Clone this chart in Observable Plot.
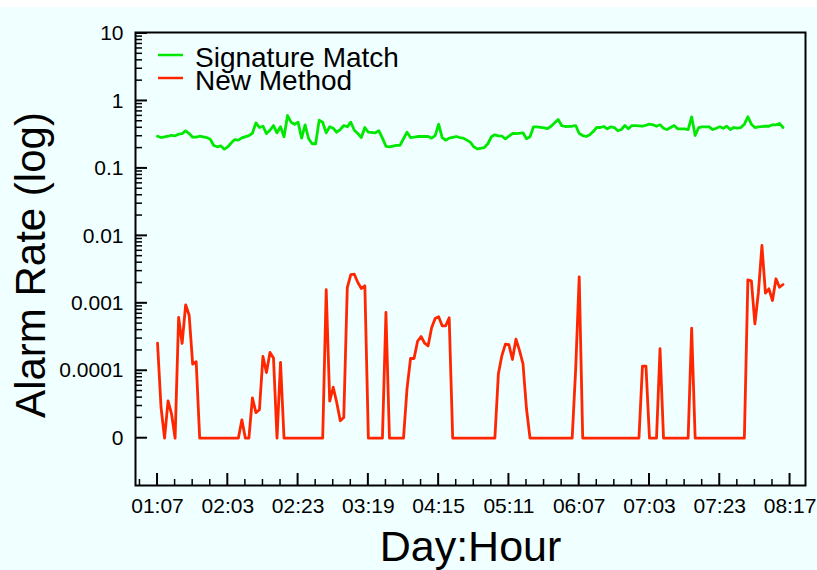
<!DOCTYPE html>
<html>
<head>
<meta charset="utf-8">
<script src="https://cdn.jsdelivr.net/npm/d3@7"></script>
<script src="https://cdn.jsdelivr.net/npm/@observablehq/plot@0.6"></script>
<style>
  html, body { margin: 0; padding: 0; background: #ffffff; }
  #chart { padding-top: 7px; }
  #chart svg { display: block; }
</style>
</head>
<body>
<div id="chart"></div>
<script>
// Sample steps along the time axis and the labelled ones
const hourTickSteps = [0, 20, 40, 60, 80, 100, 120, 140, 160, 180];
const hourTickLabels = ["01:07", "02:03", "02:23", "03:19", "04:15", "05:11", "06:07", "07:03", "07:23", "08:17"];

// Alarm-rate axis ticks (0 is drawn on the bottom row of the log scale)
const rateTicks = [10, 1, 0.1, 0.01, 0.001, 0.0001, 0];
const ZERO_ROW = 1e-5;

const seriesNames = ["Signature Match", "New Method"];
const seriesColors = ["#00e800", "#ff2600"];

// Signature Match alarm rate
const sigSteps = [0,1,3,4,5,6,7,8,9,10,11,12,14,15,16,17,18,19,20,21,22,23,24,26,27,28,29,30,31,32,33,34,35,36,37,38,39,40,41,42,43,44,45,46,47,48,49,50,51,52,53,54,55,56,57,58,59,60,62,63,64,65,66,68,69,70,71,72,74,77,78,79,80,81,82,83,85,86,87,89,90,91,93,94,95,96,97,98,99,100,101,102,104,105,106,107,108,110,111,112,114,115,116,118,119,120,121,122,123,124,125,126,127,128,129,130,131,132,133,134,135,136,138,140,141,142,143,144,145,146,147,148,150,151,152,153,154,155,157,158,159,160,161,162,163,164,165,166,167,168,169,170,171,173,174,175,176,177,178];
const sigRates = [0.300,0.287,0.300,0.310,0.304,0.321,0.329,0.361,0.329,0.290,0.290,0.300,0.287,0.271,0.219,0.209,0.216,0.193,0.209,0.240,0.268,0.262,0.284,0.307,0.332,0.474,0.404,0.422,0.329,0.368,0.432,0.337,0.414,0.294,0.608,0.484,0.452,0.484,0.281,0.443,0.275,0.232,0.232,0.518,0.484,0.337,0.414,0.394,0.344,0.377,0.432,0.414,0.484,0.368,0.329,0.287,0.404,0.344,0.337,0.361,0.281,0.213,0.209,0.219,0.219,0.275,0.344,0.287,0.297,0.297,0.281,0.307,0.452,0.287,0.262,0.281,0.297,0.287,0.281,0.245,0.209,0.195,0.204,0.232,0.294,0.315,0.304,0.300,0.275,0.300,0.329,0.329,0.337,0.275,0.294,0.414,0.414,0.398,0.390,0.422,0.531,0.432,0.418,0.422,0.432,0.329,0.307,0.297,0.315,0.352,0.404,0.404,0.418,0.386,0.414,0.404,0.361,0.377,0.432,0.386,0.432,0.432,0.422,0.452,0.443,0.422,0.443,0.394,0.377,0.404,0.432,0.386,0.386,0.377,0.582,0.307,0.404,0.414,0.414,0.377,0.394,0.414,0.394,0.422,0.377,0.404,0.394,0.404,0.452,0.582,0.452,0.404,0.414,0.422,0.422,0.443,0.443,0.464,0.404];

// New Method alarm rate
const newSteps = [0,1,2,3,4,5,6,7,8,9,10,11,12,23,24,25,26,27,28,29,30,31,32,33,34,35,36,47,48,49,50,51,52,53,54,55,56,57,58,59,60,64,65,66,70,71,72,73,74,75,76,77,78,79,80,81,82,83,84,96,97,98,99,100,101,102,103,104,105,106,118,119,120,121,137,138,139,140,142,143,144,151,152,153,167,168,169,170,171,172,173,174,175,176,177,178];
const newRates = [2.56e-4,2.85e-5,0,3.58e-5,2.27e-5,0,6.16e-4,2.54e-4,9.5e-4,6.66e-4,1.25e-4,1.36e-4,0,0,1.87e-5,0,0,3.97e-5,2.40e-5,2.64e-5,1.63e-4,9.4e-5,1.87e-4,1.54e-4,0,1.33e-4,0,0,1.59e-3,3.54e-5,5.70e-5,3.38e-5,1.81e-5,2.03e-5,1.71e-3,2.67e-3,2.70e-3,2.03e-3,1.66e-3,1.82e-3,0,0,7.31e-4,0,0,5.45e-5,1.52e-4,1.52e-4,2.74e-4,3.22e-4,2.56e-4,2.34e-4,4.33e-4,5.95e-4,6.31e-4,4.64e-4,4.64e-4,6.1e-4,0,0,9.0e-5,1.68e-4,2.48e-4,2.43e-4,1.47e-4,2.94e-4,2.0e-4,1.27e-4,2.73e-5,0,0,1.07e-4,2.47e-3,0,0,1.17e-4,1.17e-4,0,0,2.12e-4,0,0,4.27e-4,0,0,2.23e-3,2.16e-3,4.97e-4,1.46e-3,7.19e-3,1.42e-3,1.64e-3,1.10e-3,2.31e-3,1.73e-3,1.90e-3];

const toRow = v => (v > 0 ? v : ZERO_ROW);
const rows = (steps, rates, name) => steps.map((s, i) => ({step: s, rate: rates[i], series: name}));
const sigData = rows(sigSteps, sigRates, seriesNames[0]);
const newData = rows(newSteps, newRates, seriesNames[1]);

const FONT = "'Liberation Sans', Arial, Helvetica, sans-serif";

// Inward-pointing major and minor ticks on the bottom and left edges
function innerTicks(index, scales, values, dimensions) {
  const g = d3.create("svg:g").attr("stroke", "black").attr("fill", "none");
  const bottom = dimensions.height - dimensions.marginBottom;
  const left = dimensions.marginLeft;
  const [xMin, xMax] = scales.scales.x.domain;
  for (let s = -5; s <= xMax; s += 5) {
    if (s < xMin) continue;
    const major = hourTickSteps.includes(s);
    const px = scales.x(s);
    g.append("line").attr("x1", px).attr("x2", px)
      .attr("y1", bottom).attr("y2", bottom - (major ? 12 : 6))
      .attr("stroke-width", major ? 2 : 1.5);
  }
  for (let e = -5; e <= 1; e++) {
    for (let k = 1; k <= 9; k++) {
      const v = k * Math.pow(10, e);
      if (v > 10.0001) continue;
      const major = k === 1;
      const py = scales.y(v);
      g.append("line").attr("x1", left).attr("x2", left + (major ? 12 : 7))
        .attr("y1", py).attr("y2", py)
        .attr("stroke-width", major ? 2 : 1.5);
    }
  }
  return g.node();
}

// Line legend in the upper-left corner of the frame
function lineLegend(index, scales, values, dimensions) {
  const g = d3.create("svg:g")
    .attr("font-family", FONT)
    .attr("font-size", 28)
    .attr("text-anchor", "start");
  const x0 = dimensions.marginLeft, y0 = dimensions.marginTop;
  seriesNames.forEach((name, k) => {
    const cy = y0 + 23 + k * 23;
    g.append("line").attr("x1", x0 + 23).attr("x2", x0 + 48)
      .attr("y1", cy).attr("y2", cy)
      .attr("stroke", seriesColors[k]).attr("stroke-width", 2.5);
    g.append("text").attr("x", x0 + 60).attr("y", cy + 11.5)
      .attr("fill", "black").text(name);
  });
  return g.node();
}

const chart = Plot.plot({
  width: 817,
  height: 563,
  marginLeft: 135,
  marginRight: 12,
  marginTop: 25,
  marginBottom: 85,
  style: {background: "#f0ffff", fontFamily: FONT, color: "black"},
  x: {domain: [-6.27, 184.4], label: null},
  y: {type: "log", domain: [1.99e-6, 10.35], label: null},
  marks: [
    Plot.line(sigData, {x: "step", y: d => toRow(d.rate), stroke: seriesColors[0], strokeWidth: 2.8, strokeLinejoin: "round"}),
    Plot.line(newData, {x: "step", y: d => toRow(d.rate), stroke: seriesColors[1], strokeWidth: 2.8, strokeLinejoin: "round"}),
    Plot.axisX({ticks: hourTickSteps, tickFormat: s => hourTickLabels[hourTickSteps.indexOf(s)], tickSize: 0, tickPadding: 13, fontSize: 21, label: null}),
    Plot.axisY({ticks: rateTicks.map(toRow), tickFormat: v => (v === ZERO_ROW ? "0" : String(v)), tickSize: 0, tickPadding: 12, fontSize: 21, label: null}),
    innerTicks,
    lineLegend,
    Plot.frame({stroke: "black", strokeWidth: 2}),
    Plot.text(["Day:Hour"], {frameAnchor: "bottom", dy: 45, lineAnchor: "top", textAnchor: "middle", fontSize: 43, fill: "black"}),
    Plot.text(["Alarm Rate (log)"], {frameAnchor: "left", dx: -104, dy: 6, rotate: -90, textAnchor: "middle", lineAnchor: "middle", fontSize: 42, fill: "black"})
  ]
});

document.getElementById("chart").appendChild(chart);
</script>
</body>
</html>
